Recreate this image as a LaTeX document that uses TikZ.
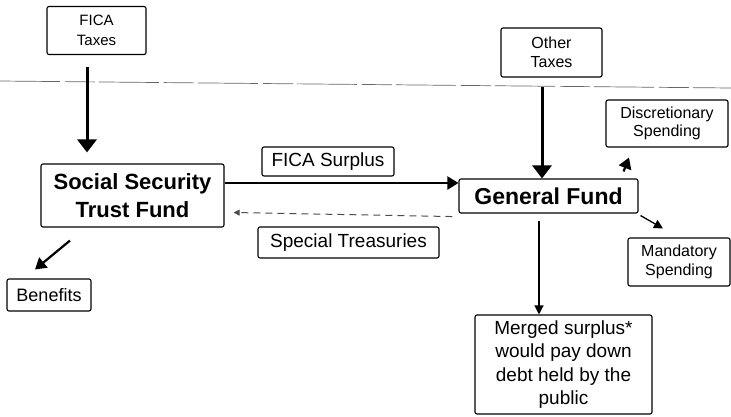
\documentclass[tikz,border=0pt]{standalone}
\usepackage{fontspec}
\setmainfont{Liberation Sans}
\usetikzlibrary{arrows.meta}
\begin{document}
\begin{tikzpicture}[x=1pt,y=-1pt,
  box/.style={draw=black, line width=1.1pt, rectangle, rounded corners=2pt, align=center, inner sep=0pt},
  heavy/.style={line width=3pt, -{Triangle[length=13pt,width=19pt]}},
  medium/.style={line width=2.2pt, -{Triangle[length=11pt,width=13pt]}},
  light/.style={line width=1.3pt, -{Triangle[length=9pt,width=9pt]}},
  faint/.style={line width=1pt, black!70, dash pattern=on 7pt off 5pt, -{Triangle[length=6pt,width=6pt]}}]
\useasboundingbox (0,0) rectangle (731,416);
\draw[black!60, line width=0.7pt, dash pattern=on 60pt off 5pt on 30pt off 4pt] (0,81) -- (731,88);
\node[box, minimum width=99pt, minimum height=48pt, font=\fontsize{15}{20}\selectfont] (A) at (96.5,30.5) {FICA\\Taxes};
\node[box, minimum width=101pt, minimum height=49pt, font=\fontsize{16}{19}\selectfont] (B) at (551.5,52.5) {Other\\Taxes};
\node[box, minimum width=183pt, minimum height=63pt, font=\bfseries\fontsize{22}{28}\selectfont] (C) at (132.5,195.5) {Social Security\\Trust Fund};
\node[box, minimum width=179pt, minimum height=34pt, font=\bfseries\fontsize{23}{28}\selectfont] (D) at (548.5,196) {General Fund};
\node[box, minimum width=132pt, minimum height=29pt, font=\fontsize{19}{23}\selectfont] (E) at (328,161.5) {FICA Surplus};
\node[box, minimum width=181pt, minimum height=31pt, font=\fontsize{19}{23}\selectfont] (F) at (348.5,242.5) {Special Treasuries};
\node[box, minimum width=84pt, minimum height=32pt, font=\fontsize{18}{22}\selectfont] (G) at (49,295) {Benefits};
\node[box, minimum width=122pt, minimum height=47pt, font=\fontsize{16}{18}\selectfont] (H) at (667,123.5) {Discretionary\\Spending};
\node[box, minimum width=102pt, minimum height=48pt, font=\fontsize{16}{19}\selectfont] (I) at (679,262) {Mandatory\\Spending};
\node[box, minimum width=177pt, minimum height=99pt, font=\fontsize{19}{23.3}\selectfont] (J) at (563.5,364.5) {Merged surplus*\\would pay down\\debt held by the\\public};

\draw[heavy, shorten <=12pt, shorten >=11pt] ([xshift=-9.5pt]A.south) -- ([xshift=-45.5pt]C.north);
\draw[heavy, shorten <=9pt] ([xshift=-9.5pt]B.south) -- ([xshift=-6.5pt]D.north);
\draw[medium] ([yshift=12.5pt]C.east) -- ([yshift=13pt]D.west);
\draw[faint] ([xshift=-6pt,yshift=-3pt]D.south west) -- ([xshift=9pt,yshift=-17pt]C.east);
\draw[medium] ([xshift=-62.5pt,yshift=-13pt]C.south) -- ([xshift=-14pt,yshift=9pt]G.north);
\draw[medium] ([xshift=-15pt,yshift=7pt]D.north east) -- ([xshift=-38pt,yshift=-10pt]H.south);
\draw[light] ([xshift=2pt,yshift=-2pt]D.south east) -- ([xshift=-16pt,yshift=9pt]I.north);
\draw[light] ([xshift=-9.5pt,yshift=-7pt]D.south) -- ([xshift=-24.5pt]J.north);
\end{tikzpicture}
\end{document}
